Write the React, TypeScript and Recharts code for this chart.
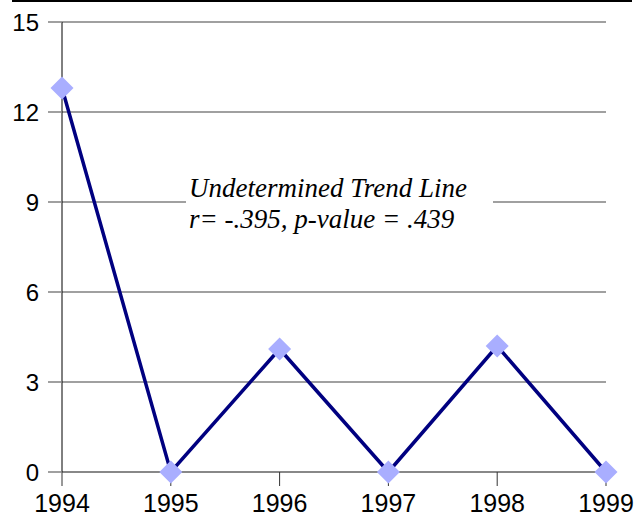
import React from "react";
import { LineChart, Line, XAxis, YAxis, CartesianGrid } from "recharts";

const years = [1994, 1995, 1996, 1997, 1998, 1999];
const values = [12.8, 0, 4.1, 0, 4.2, 0];
const yTicks = [0, 3, 6, 9, 12, 15];
const annotationLines = ["Undetermined Trend Line", "r= -.395, p-value = .439"];

const data = years.map((y, i) => ({ year: y, value: values[i] }));

const FONT = "'Liberation Sans', Arial, sans-serif";

const YTick = (props: any) => {
  const { x, y, payload } = props;
  return (
    <text
      x={x}
      y={y}
      textAnchor="end"
      dominantBaseline="central"
      fontFamily={FONT}
      fontSize={24}
      fill="#000"
    >
      {payload.value}
    </text>
  );
};

const XTick = (props: any) => {
  const { x, y, payload } = props;
  return (
    <text
      x={x}
      y={y}
      textAnchor="middle"
      dy="0.71em"
      fontFamily={FONT}
      fontSize={25}
      fill="#000"
    >
      {payload.value}
    </text>
  );
};

const Diamond = (props: any) => {
  const { cx, cy } = props;
  if (cx == null || cy == null) return null;
  const r = 11.5;
  return (
    <polygon
      points={`${cx},${cy - r} ${cx + r},${cy} ${cx},${cy + r} ${cx - r},${cy}`}
      fill="#a9aeff"
      stroke="none"
    />
  );
};

export default function App() {
  return (
    <div style={{ position: "absolute", left: 0, top: 0, width: 644, height: 525, background: "#fff" }}>
      <LineChart
        width={644}
        height={525}
        data={data}
        margin={{ top: 22, right: 38, bottom: 3, left: 0 }}
      >
        <CartesianGrid horizontal vertical={false} stroke="#808080" strokeWidth={1.5} />
        <XAxis
          dataKey="year"
          type="number"
          domain={[1994, 1999]}
          ticks={years}
          interval={0}
          height={50}
          axisLine={{ stroke: "#808080", strokeWidth: 1.5 }}
          tickLine={{ stroke: "#333" }}
          tickSize={14}
          tickMargin={8}
          tick={<XTick />}
        />
        <YAxis
          type="number"
          domain={[0, 15]}
          ticks={yTicks}
          interval={0}
          width={62}
          axisLine={{ stroke: "#000", strokeWidth: 1 }}
          tickLine={{ stroke: "#808080", strokeWidth: 1.5 }}
          tickSize={14}
          tickMargin={9}
          tick={<YTick />}
        />
        <Line
          dataKey="value"
          stroke="#000080"
          strokeWidth={3.5}
          dot={<Diamond />}
          activeDot={false}
          isAnimationActive={false}
        />
      </LineChart>
      <div
        style={{
          position: "absolute",
          left: 12,
          top: 0,
          width: 620,
          height: 2,
          background: "#000",
        }}
      />
      <div
        style={{
          position: "absolute",
          left: 186,
          top: 173,
          width: 307,
          height: 64,
          background: "#fff",
          fontFamily: "'Liberation Serif', 'Times New Roman', serif",
          fontStyle: "italic",
          fontSize: 27,
          lineHeight: "31px",
          paddingLeft: 3,
          boxSizing: "border-box",
          color: "#000",
          whiteSpace: "nowrap",
        }}
      >
        {annotationLines.map((t) => (
          <div key={t}>{t}</div>
        ))}
      </div>
    </div>
  );
}
